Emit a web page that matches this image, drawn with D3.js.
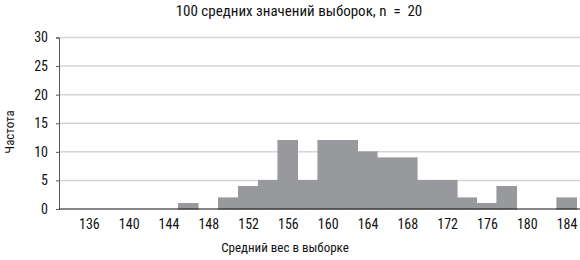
<!DOCTYPE html>
<html><head><meta charset="utf-8">
<script src="https://cdn.jsdelivr.net/npm/d3@7"></script>
<style>
body{margin:0;background:#fff;}
text{font-family:"Liberation Sans Narrow","Roboto Condensed","Arial Narrow",sans-serif;fill:#111;}
</style></head><body>
<svg id="c" width="580" height="260"></svg>
<script>
const categories = [136,138,140,142,144,146,148,150,152,154,156,158,160,162,164,166,168,170,172,174,176,178,180,182,184];
const counts =     [0,0,0,0,0,1,0,2,4,5,12,5,12,12,10,9,9,5,5,2,1,4,0,0,2];
const binWidth = 2;
const xTickLabels = [136,140,144,148,152,156,160,164,168,172,176,180,184];
const yTicks = [0,5,10,15,20,25,30];
const title = "100 средних значений выборок, n  =  20";
const xTitle = "Средний вес в выборке";
const yTitle = "Частота";

const svg = d3.select("#c");
const x = d3.scaleLinear().domain([133, 185]).range([59, 576.5]);
const y = d3.scaleLinear().domain([0, 30]).range([209, 37.5]);

// gridlines
svg.append("g").selectAll("line").data(yTicks.filter(d => d > 0)).join("line")
  .attr("x1", 59).attr("x2", 580)
  .attr("y1", d => y(d)).attr("y2", d => y(d))
  .attr("stroke", "#d4d4d4").attr("stroke-width", 1.5);

// bars
svg.append("g").attr("shape-rendering", "crispEdges").selectAll("rect").data(categories).join("rect")
  .attr("x", d => x(d - binWidth / 2)).attr("width", d => x(d + binWidth / 2) - x(d - binWidth / 2))
  .attr("y", (d, i) => y(counts[i])).attr("height", (d, i) => y(0) - y(counts[i]))
  .attr("fill", "#98999c").attr("stroke", "#98999c").attr("stroke-width", 0.6);

// y axis
const yAxis = svg.append("g").attr("transform", "translate(59,0)")
  .call(d3.axisLeft(y).tickValues(yTicks).tickSize(3).tickPadding(8));
yAxis.select(".domain").attr("stroke", "#555");
yAxis.selectAll(".tick line").attr("stroke", "#555");
yAxis.selectAll("text").attr("font-size", 14).attr("fill", "#111");

// x axis
const xAxis = svg.append("g").attr("transform", "translate(0,209)")
  .call(d3.axisBottom(x).tickValues(xTickLabels).tickSize(0).tickPadding(10));
xAxis.select(".domain").remove();
svg.append("line").attr("x1", 59).attr("x2", 580).attr("y1", 209).attr("y2", 209)
  .attr("stroke", "#111").attr("stroke-width", 1.2);
xAxis.selectAll("text").attr("font-size", 14).attr("fill", "#111");

svg.selectAll(".tick text").attr("font-family", "'Liberation Sans Narrow','Roboto Condensed',sans-serif");

svg.append("text").attr("x", 299).attr("y", 16).attr("text-anchor", "middle")
  .attr("font-size", 15).attr("xml:space", "preserve").style("white-space", "pre").text(title);
svg.append("text").attr("x", 285).attr("y", 252).attr("text-anchor", "middle")
  .attr("font-size", 13).text(xTitle);
svg.append("text").attr("transform", "translate(14,132) rotate(-90)").attr("text-anchor", "middle")
  .attr("font-size", 13).text(yTitle);
</script>
</body></html>
